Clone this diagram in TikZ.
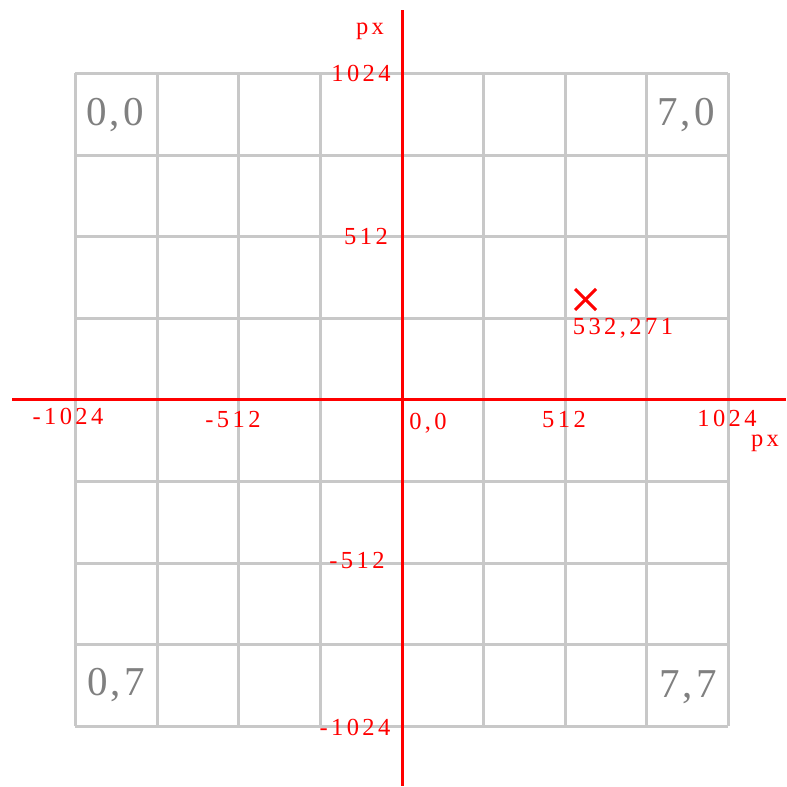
\documentclass[tikz,border=0pt]{standalone}
\usepackage{fontspec}
\setmainfont{Liberation Serif}
\newfontfamily\lblfont[LetterSpace=14]{Liberation Serif}
\newfontfamily\bigfont[LetterSpace=8]{Liberation Serif}
\begin{document}
\begin{tikzpicture}[x=1pt,y=-1pt,
  gridline/.style={draw={rgb,255:red,200;green,200;blue,200},line width=3pt},
  axisline/.style={draw=red,line width=3pt},
  lbl/.style={text=red,font=\lblfont\fontsize{24.5}{24.5}\selectfont,inner sep=0pt},
  cell/.style={text={rgb,255:red,128;green,128;blue,128},font=\bigfont\fontsize{41}{41}\selectfont,inner sep=0pt}]
\useasboundingbox (0,0) rectangle (787,787);
% grid
\foreach \x in {75,157,238,320,483,565,646,728}
  \draw[gridline] (\x,73) -- (\x,726);
\foreach \y in {73,155,236,318,481,563,644,726}
  \draw[gridline] (75,\y) -- (728,\y);
\draw[gridline] (75,399) -- (728,399);
\draw[gridline] (402,73) -- (402,726);
% axes
\coordinate (yt) at (402,10);
\coordinate (yb) at (402,786);
\coordinate (xl) at (12,399);
\coordinate (xr) at (786,399);
\draw[axisline] (yt) -- (yb);
\draw[axisline] (xl) -- (xr);
% cross
\coordinate (c1) at (575,289);
\coordinate (c2) at (596,310);
\coordinate (c3) at (575,310);
\coordinate (c4) at (596,289);
\draw[axisline] (c1) -- (c2);
\draw[axisline] (c3) -- (c4);
% labels
\node[lbl] (pxt) at (370,31) {px};
\node[lbl] (y1) at (361,73) {1024};
\node[lbl] (y2) at (366,237) {512};
\node[lbl] (y3) at (357,561) {-512};
\node[lbl] (y4) at (355,727) {-1024};
\node[lbl] (x1) at (68,416) {-1024};
\node[lbl] (x2) at (233,420) {-512};
\node[lbl] (x0) at (428,423) {0,0};
\node[lbl] (x3) at (564,420) {512};
\node[lbl] (x4) at (727,418) {1024};
\node[lbl] (pxr) at (765,443) {px};
\node[lbl] (pt) at (623,328) {532,271};
% cell labels
\node[cell] (c00) at (115,115) {0,0};
\node[cell] (c70) at (686,115) {7,0};
\node[cell] (c07) at (116,685) {0,7};
\node[cell] (c77) at (688,687) {7,7};
\end{tikzpicture}
\end{document}
